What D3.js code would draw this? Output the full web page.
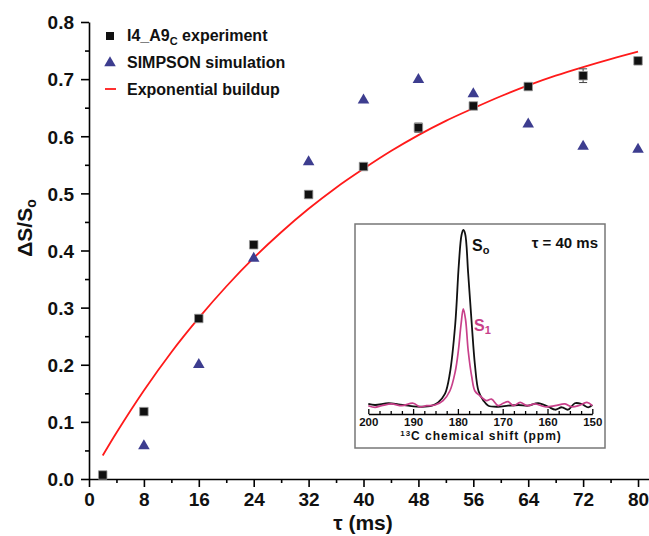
<!DOCTYPE html>
<html>
<head>
<meta charset="utf-8">
<script src="https://cdn.jsdelivr.net/npm/d3@7"></script>
<style>
  body { margin: 0; background: #fff; }
  text { font-family: "Liberation Sans", Arial, sans-serif; font-weight: bold; }
</style>
</head>
<body>
<div id="chart"></div>
<script>
// mixing time (ms)
var tau = [2, 8, 16, 24, 32, 40, 48, 56, 64, 72, 80];
// I4_A9C experiment, dS/S0 with error
var expValues = [0.007, 0.118, 0.281, 0.410, 0.498, 0.547, 0.615, 0.653, 0.687, 0.706, 0.732];
var expErrors = [0.005, 0.005, 0.005, 0.005, 0.006, 0.005, 0.008, 0.006, 0.005, 0.012, 0.006];
// SIMPSON simulation
var simValues = [null, 0.058, 0.200, 0.386, 0.555, 0.663, 0.699, 0.674, 0.621, 0.582, 0.577];
// exponential buildup fit
var fitTau = [2, 4, 8, 12, 16, 20, 24, 28, 32, 36, 40, 44, 48, 52, 56, 60, 64, 68, 72, 76, 80];
var fitValues = [0.041, 0.081, 0.155, 0.222, 0.282, 0.337, 0.387, 0.432, 0.473, 0.510, 0.543,
                 0.574, 0.602, 0.627, 0.649, 0.670, 0.689, 0.706, 0.721, 0.735, 0.748];
var xTicks = [0, 8, 16, 24, 32, 40, 48, 56, 64, 72, 80];
var yTicks = [0, 0.1, 0.2, 0.3, 0.4, 0.5, 0.6, 0.7, 0.8];

// inset spectra at tau = 40 ms (ppm, relative intensity)
var s0Ppm = [200, 198.5, 195.5, 193.3, 191.1, 188.1, 185.8, 184.4, 182.9, 181.8, 180.6, 179.8, 179.2,
             178.8, 178.4, 177.7, 176.9, 176.2, 175.4, 174.3, 173.2, 171.0, 168.8, 166.5, 164.3, 162.1,
             159.8, 158.3, 156.8, 155.4, 153.9, 152.4, 150.9, 150];
var s0Int = [0.006, 0.0, 0.010, 0.004, -0.004, -0.010, -0.004, 0.015, 0.063, 0.180, 0.460, 0.800, 0.970,
             1.0, 0.980, 0.750, 0.460, 0.230, 0.080, 0.025, -0.004, -0.010, -0.004, 0.0, -0.004, 0.011,
             -0.010, -0.027, -0.013, -0.027, 0.010, 0.006, -0.013, 0.0];
var s1Ppm = [200, 198.5, 197.0, 194.8, 192.5, 190.0, 188.5, 187.0, 185.1, 183.3, 181.8, 180.6, 179.9,
             179.3, 178.8, 178.3, 177.7, 176.9, 176.2, 175.1, 173.6, 172.5, 171.0, 169.9, 168.8, 167.6,
             166.1, 164.6, 162.8, 160.6, 158.3, 156.1, 154.6, 153.1, 151.2, 150];
var s1Int = [-0.004, -0.013, -0.004, 0.006, -0.004, 0.010, -0.010, -0.004, 0.0, 0.025, 0.080, 0.190, 0.310,
             0.460, 0.549, 0.490, 0.310, 0.160, 0.080, 0.053, 0.025, 0.034, -0.004, 0.010, 0.019, -0.004,
             0.015, -0.004, 0.006, -0.010, -0.004, 0.006, -0.010, -0.004, 0.015, -0.004];
var ppmTicks = [200, 190, 180, 170, 160, 150];

var width = 649, height = 536;

var svg = d3.select("#chart")
    .append("svg")
    .attr("width", width)
    .attr("height", height);

var xScale = d3.scaleLinear().domain([0, 81.6]).range([89, 649]);
var yScale = d3.scaleLinear().domain([0, 0.8]).range([479, 22]);

// minor ticks
svg.append("g")
    .attr("transform", "translate(0,479)")
    .call(d3.axisBottom(xScale).tickValues(d3.range(4, 80, 8)).tickSize(4).tickFormat(""))
    .call(function(g) { g.select(".domain").remove(); });
svg.append("g")
    .attr("transform", "translate(89,0)")
    .call(d3.axisLeft(yScale).tickValues(d3.range(0.05, 0.8, 0.1)).tickSize(4).tickFormat(""))
    .call(function(g) { g.select(".domain").remove(); });

var xAxis = svg.append("g")
    .attr("transform", "translate(0,479)")
    .call(d3.axisBottom(xScale).tickValues(xTicks).tickSize(8).tickSizeOuter(0).tickPadding(6));
var yAxis = svg.append("g")
    .attr("transform", "translate(89,0)")
    .call(d3.axisLeft(yScale).tickValues(yTicks).tickSize(8).tickSizeOuter(0).tickPadding(7)
        .tickFormat(d3.format(".1f")));

svg.selectAll(".domain, .tick line").attr("stroke", "#000").attr("stroke-width", 1.6);
xAxis.selectAll(".tick text").attr("font-size", 19).attr("fill", "#111");
yAxis.selectAll(".tick text").attr("font-size", 19).attr("fill", "#111").attr("dy", "0.36em");

// axis titles
svg.append("text")
    .attr("x", 363)
    .attr("y", 530)
    .attr("text-anchor", "middle")
    .attr("font-size", 21)
    .attr("fill", "#111")
    .text("\u03c4 (ms)");

var yLabel = svg.append("text")
    .attr("transform", "translate(32,228) rotate(-90)")
    .attr("text-anchor", "middle")
    .attr("font-size", 21)
    .attr("fill", "#111");
yLabel.append("tspan").text("\u0394S/S");
yLabel.append("tspan").attr("font-size", 14).attr("dy", 4).text("o");

// fit curve
var fitData = fitTau.map(function(t, i) { return {x: t, y: fitValues[i]}; });
svg.append("path")
    .datum(fitData)
    .attr("fill", "none")
    .attr("stroke", "#ff1a1a")
    .attr("stroke-width", 1.8)
    .attr("d", d3.line()
        .x(function(d) { return xScale(d.x); })
        .y(function(d) { return yScale(d.y); })
        .curve(d3.curveCatmullRom));

// simulation triangles
var simData = tau.map(function(t, i) { return {x: t, y: simValues[i]}; })
    .filter(function(d) { return d.y !== null; });
svg.selectAll(".sim")
    .data(simData)
    .enter()
    .append("path")
        .attr("class", "sim")
        .attr("transform", function(d) { return "translate(" + xScale(d.x) + "," + yScale(d.y) + ")"; })
        .attr("d", d3.symbol(d3.symbolTriangle, 58))
        .attr("fill", "#3d3d8f");

// experiment squares with error bars
var expData = tau.map(function(t, i) { return {x: t, y: expValues[i], e: expErrors[i]}; });
var bars = svg.selectAll(".err")
    .data(expData)
    .enter()
    .append("g")
        .attr("class", "err")
        .attr("stroke", "#444")
        .attr("stroke-width", 1);
bars.append("line")
    .attr("x1", function(d) { return xScale(d.x); })
    .attr("x2", function(d) { return xScale(d.x); })
    .attr("y1", function(d) { return yScale(d.y - d.e); })
    .attr("y2", function(d) { return yScale(d.y + d.e); });
[-1, 1].forEach(function(s) {
    bars.append("line")
        .attr("x1", function(d) { return xScale(d.x) - 4; })
        .attr("x2", function(d) { return xScale(d.x) + 4; })
        .attr("y1", function(d) { return yScale(d.y + s * d.e); })
        .attr("y2", function(d) { return yScale(d.y + s * d.e); });
});
svg.selectAll(".exp")
    .data(expData)
    .enter()
    .append("path")
        .attr("class", "exp")
        .attr("transform", function(d) { return "translate(" + xScale(d.x) + "," + yScale(d.y) + ")"; })
        .attr("d", d3.symbol(d3.symbolSquare, 72))
        .attr("fill", "#111")
        .attr("stroke", "#999")
        .attr("stroke-width", 0.8);

// legend
var legend = svg.append("g");
legend.append("path")
    .attr("transform", "translate(110,36)")
    .attr("d", d3.symbol(d3.symbolSquare, 64))
    .attr("fill", "#111");
legend.append("path")
    .attr("transform", "translate(110,63)")
    .attr("d", d3.symbol(d3.symbolTriangle, 58))
    .attr("fill", "#3d3d8f");
legend.append("line")
    .attr("x1", 105).attr("x2", 116)
    .attr("y1", 89).attr("y2", 89)
    .attr("stroke", "#ff1a1a")
    .attr("stroke-width", 1.8);
var l1 = legend.append("text").attr("x", 127).attr("y", 41).attr("font-size", 16).attr("fill", "#111");
l1.append("tspan").text("I4_A9");
l1.append("tspan").attr("font-size", 11).attr("dy", 4).text("C");
l1.append("tspan").attr("dy", -4).text(" experiment");
legend.append("text").attr("x", 127).attr("y", 68).attr("font-size", 16).attr("fill", "#111")
    .text("SIMPSON simulation");
legend.append("text").attr("x", 127).attr("y", 95).attr("font-size", 16).attr("fill", "#111")
    .text("Exponential buildup");

// inset
var inset = svg.append("g");
inset.append("rect")
    .attr("x", 355).attr("y", 224)
    .attr("width", 250).attr("height", 224)
    .attr("fill", "#fff")
    .attr("stroke", "#777")
    .attr("stroke-width", 1.5);

var ppmScale = d3.scaleLinear().domain([200, 150]).range([368.3, 592.3]);
var intScale = d3.scaleLinear().domain([0, 1]).range([405, 230]);

inset.append("g")
    .attr("transform", "translate(0,414)")
    .call(d3.axisTop(ppmScale).tickValues(d3.range(197.5, 150, -2.5).filter(function(v) { return v % 10 !== 0; }))
        .tickSize(3).tickFormat(""))
    .call(function(g) { g.select(".domain").remove(); });
var ppmAxis = inset.append("g")
    .attr("transform", "translate(0,414)")
    .call(d3.axisTop(ppmScale).tickValues(ppmTicks).tickSize(5).tickSizeOuter(0).tickFormat(d3.format("d")));
inset.selectAll(".domain, .tick line").attr("stroke", "#000").attr("stroke-width", 1.3);
ppmAxis.selectAll(".tick text")
    .attr("font-size", 11.5)
    .attr("fill", "#111")
    .attr("y", 12)
    .attr("dy", 0);

var xl = inset.append("text")
    .attr("x", 481).attr("y", 440)
    .attr("text-anchor", "middle")
    .attr("font-size", 12)
    .attr("letter-spacing", 1)
    .attr("fill", "#111");
xl.append("tspan").attr("font-size", 8).attr("dy", -4).text("13");
xl.append("tspan").attr("dy", 4).text("C chemical shift (ppm)");

var specLine = d3.line()
    .x(function(d) { return ppmScale(d[0]); })
    .y(function(d) { return intScale(d[1]); })
    .curve(d3.curveCatmullRom);

inset.append("path")
    .datum(s0Ppm.map(function(p, i) { return [p, s0Int[i]]; }))
    .attr("fill", "none")
    .attr("stroke", "#111")
    .attr("stroke-width", 1.8)
    .attr("d", specLine);
inset.append("path")
    .datum(s1Ppm.map(function(p, i) { return [p, s1Int[i]]; }))
    .attr("fill", "none")
    .attr("stroke", "#c8408a")
    .attr("stroke-width", 1.7)
    .attr("d", specLine);

var t0 = inset.append("text").attr("x", 472).attr("y", 251).attr("font-size", 16).attr("fill", "#111");
t0.append("tspan").text("S");
t0.append("tspan").attr("font-size", 11).attr("dy", 3).text("o");
var t1 = inset.append("text").attr("x", 474).attr("y", 331).attr("font-size", 16).attr("fill", "#c8408a");
t1.append("tspan").text("S");
t1.append("tspan").attr("font-size", 11).attr("dy", 3).text("1");
inset.append("text")
    .attr("x", 598).attr("y", 248)
    .attr("text-anchor", "end")
    .attr("font-size", 15)
    .attr("fill", "#111")
    .text("\u03c4 = 40 ms");
</script>
</body>
</html>
